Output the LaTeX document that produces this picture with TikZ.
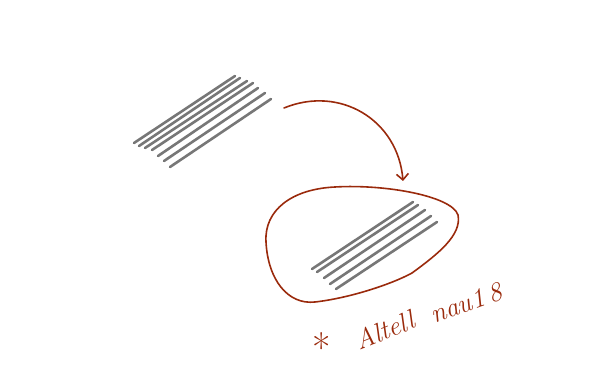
\documentclass[tikz,border=0pt]{standalone}
\usetikzlibrary{arrows.meta}
\definecolor{rust}{HTML}{9A2A0C}
\definecolor{bar}{HTML}{777777}
\begin{document}
\begin{tikzpicture}[x=1pt,y=-1pt,
  barline/.style={draw=bar,line width=2.6pt,line cap=round},
  ink/.style={draw=rust,line width=1.6pt,line cap=round,line join=round},
  hand/.style={text=rust,font=\itshape\fontsize{27}{28}\selectfont,inner sep=0pt}]
\useasboundingbox (0,0) rectangle (608,382);
% top bundle
\foreach \a/\b/\c/\d [count=\i] in {134/143/235/76,139/146/240/78,145/148/247/81,152/150/253/83,158/156/258/88,164/161/265/93,170/167/271/99}{
  \coordinate (t\i s) at (\a,\b); \coordinate (t\i e) at (\c,\d);
  \draw[barline] (t\i s) -- (t\i e);
}
% bottom bundle
\foreach \a/\b/\c/\d [count=\i] in {312/269/413/202,317/272/418/205,324/278/425/210,330/284/431/216,336/289/437/222}{
  \coordinate (b\i s) at (\a,\b); \coordinate (b\i e) at (\c,\d);
  \draw[barline] (b\i s) -- (b\i e);
}
% arrow
\coordinate (as) at (284,108);
\coordinate (ae) at (403,181);
\draw[ink,-{Straight Barb[length=6pt,width=12pt,line width=1.6pt]}] (as) .. controls (340,85) and (398,120) .. (ae);
% blob
\coordinate (k) at (412,273);
\draw[ink] (k) .. controls (438,254) and (462,235) .. (458,215)
  .. controls (452,196) and (385,184) .. (335,187)
  .. controls (292,189) and (264,210) .. (266,242)
  .. controls (268,280) and (288,305) .. (315,302)
  .. controls (350,298) and (392,284) .. (k);
% text
\node[hand,font=\fontsize{40}{40}\selectfont] (star) at (322,348) {*};
\node[hand,rotate=22] (w1) at (385,330) {Altell};
\node[hand,rotate=20] (w2) at (466,303) {nau1\,8};
\end{tikzpicture}
\end{document}
